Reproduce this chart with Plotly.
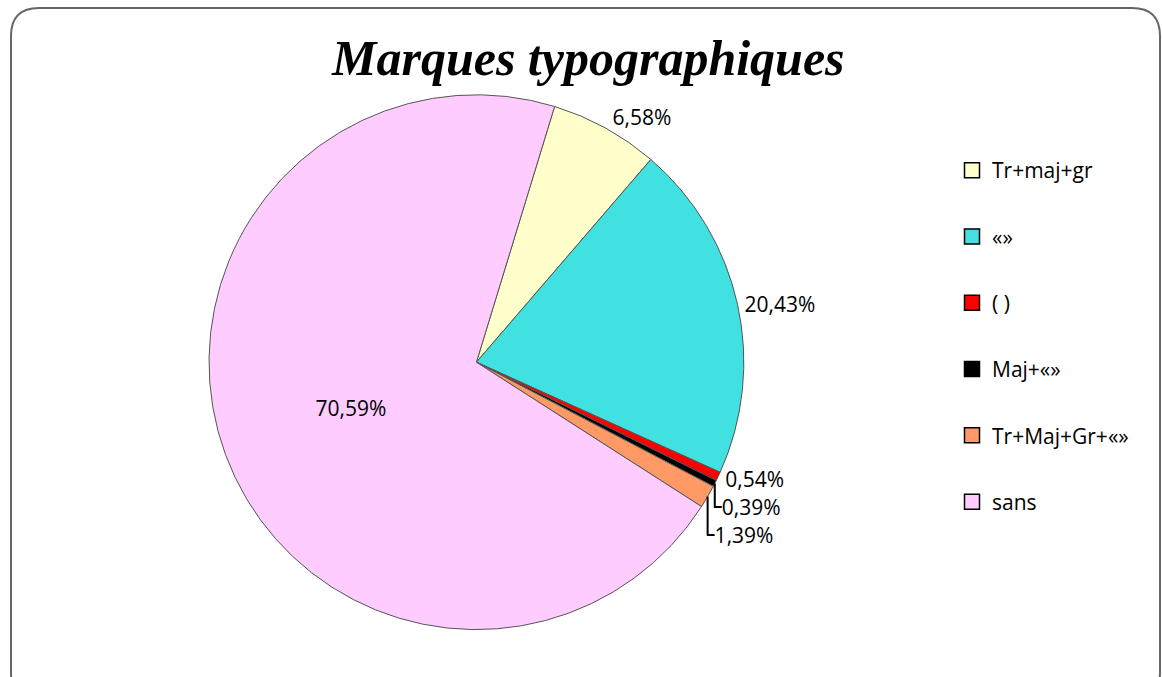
import plotly.graph_objects as go

categories = ["Tr+maj+gr", "«»", "( )", "Maj+«»", "Tr+Maj+Gr+«»", "sans"]
values = [6.58, 20.43, 0.54, 0.39, 1.39, 70.59]
colors = ["#FFFFCC", "#41E1E1", "#FF0000", "#000000", "#FF9966", "#FFCCFF"]
text_positions = ["outside", "outside", "outside", "outside", "outside", "inside"]
title_text = "Marques typographiques"

W, H = 1162, 677

fig = go.Figure()

fig.add_trace(go.Pie(
    labels=categories,
    values=values,
    sort=False,
    direction="clockwise",
    rotation=17,
    marker=dict(colors=colors, line=dict(color="#555555", width=1)),
    texttemplate="%{value:.2f}%",
    textposition=text_positions,
    insidetextorientation="horizontal",
    textfont=dict(family="Open Sans", size=21, color="#000000"),
    showlegend=False,
    hoverinfo="label+value",
    domain=dict(x=[0.12, 0.70], y=[0.07, 0.86]),
))

for i, (cat, col) in enumerate(zip(categories, colors)):
    fig.add_trace(go.Scatter(
        x=[None], y=[None], mode="markers", name=cat,
        legendgroup="g%d" % i,
        marker=dict(symbol="square", size=15, color=col,
                    line=dict(color="#000000", width=1.5)),
    ))

# rounded frame
x0, x1 = 11 / W, 1160 / W
y0, y1 = 1 - 700 / H, 1 - 8 / H
rx, ry = 28 / W, 28 / H
path = (f"M {x0+rx},{y1} L {x1-rx},{y1} Q {x1},{y1} {x1},{y1-ry} "
        f"L {x1},{y0+ry} Q {x1},{y0} {x1-rx},{y0} L {x0+rx},{y0} "
        f"Q {x0},{y0} {x0},{y0+ry} L {x0},{y1-ry} Q {x0},{y1} {x0+rx},{y1} Z")

fig.update_layout(
    width=W, height=H,
    margin=dict(l=0, r=0, t=0, b=0),
    paper_bgcolor="white", plot_bgcolor="white",
    separators=", ",
    xaxis=dict(visible=False), yaxis=dict(visible=False),
    shapes=[dict(type="path", path=path, xref="paper", yref="paper",
                 line=dict(color="#666666", width=2), layer="below")],
    annotations=[dict(text="<b><i>" + title_text + "</i></b>", x=588 / W, y=1 - 58 / H,
                      xref="paper", yref="paper", showarrow=False,
                      xanchor="center", yanchor="middle",
                      font=dict(family="Liberation Serif", size=50, color="#000000"))],
    legend=dict(x=952 / W, y=1 - 150 / H, xanchor="left", yanchor="top",
                tracegroupgap=36, font=dict(family="Open Sans", size=21, color="#000000"),
                bgcolor="rgba(0,0,0,0)"),
)

fig.write_html("out.html", config={"displayModeBar": False},
               post_script="document.body.style.margin='0';")
